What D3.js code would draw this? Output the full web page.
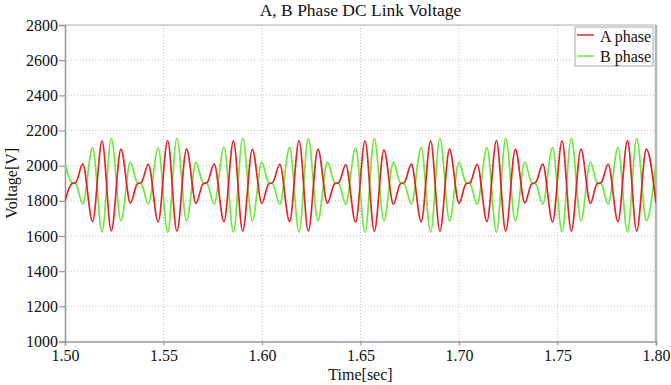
<!DOCTYPE html>
<html>
<head>
<meta charset="utf-8">
<script src="https://cdn.jsdelivr.net/npm/d3@7"></script>
<style>
  body { margin: 0; background: #fff; }
  svg text { font-family: "Liberation Serif", "Times New Roman", serif; fill: #111; }
</style>
</head>
<body>
<div id="chart"></div>
<script>
// extrema (and pinch plateau points), seconds
const times = [
  1.5000,
  1.5033, 1.5055, 1.5090, 1.5140, 1.5188, 1.5235, 1.5284, 1.5332,
  1.5366, 1.5388, 1.5423, 1.5473, 1.5521, 1.5568, 1.5617, 1.5665,
  1.5700, 1.5722, 1.5757, 1.5807, 1.5855, 1.5902, 1.5951, 1.5999,
  1.6033, 1.6055, 1.6090, 1.6140, 1.6188, 1.6235, 1.6284, 1.6332,
  1.6368, 1.6390, 1.6425, 1.6475, 1.6523, 1.6570, 1.6619, 1.6667,
  1.6701, 1.6723, 1.6758, 1.6808, 1.6856, 1.6903, 1.6952, 1.7000,
  1.7035, 1.7057, 1.7092, 1.7142, 1.7190, 1.7237, 1.7286, 1.7334,
  1.7368, 1.7390, 1.7425, 1.7475, 1.7523, 1.7570, 1.7619, 1.7667,
  1.7700, 1.7722, 1.7757, 1.7807, 1.7855, 1.7902, 1.7951, 1.8000
];
const phaseA = [
  1800,
  1896, 1904, 2009, 1682, 2141, 1629, 2094, 1787,
  1895, 1905, 2008, 1680, 2143, 1627, 2095, 1785,
  1896, 1904, 2010, 1681, 2141, 1628, 2093, 1786,
  1895, 1905, 2008, 1682, 2142, 1629, 2094, 1787,
  1896, 1904, 2005, 1679, 2141, 1626, 2090, 1781,
  1895, 1905, 2009, 1681, 2141, 1628, 2094, 1786,
  1896, 1904, 2008, 1682, 2142, 1627, 2093, 1787,
  1895, 1905, 2009, 1680, 2141, 1628, 2094, 1786,
  1896, 1904, 2008, 1682, 2142, 1628, 2094, 1788
];
const phaseB = [
  2015,
  1904, 1896, 1781, 2103, 1622, 2156, 1686, 2020,
  1905, 1895, 1782, 2102, 1621, 2155, 1685, 2019,
  1904, 1896, 1781, 2104, 1622, 2156, 1686, 2020,
  1905, 1895, 1780, 2103, 1622, 2154, 1687, 2020,
  1904, 1896, 1781, 2102, 1620, 2155, 1686, 2020,
  1905, 1895, 1782, 2103, 1622, 2156, 1685, 2019,
  1904, 1896, 1781, 2103, 1621, 2155, 1686, 2020,
  1905, 1895, 1780, 2104, 1622, 2156, 1686, 2020,
  1904, 1896, 1781, 2103, 1622, 2155, 1686, 2017
];
const xTicks = [1.50, 1.55, 1.60, 1.65, 1.70, 1.75, 1.80];
const yTicks = [1000, 1200, 1400, 1600, 1800, 2000, 2200, 2400, 2600, 2800];
const seriesNames = ['A phase', 'B phase'];
const seriesColors = ['#e3242b', '#6ee83c'];

const W = 671, H = 385;
const margin = { top: 25, right: 15, bottom: 43.5, left: 65 },
      width = W - margin.left - margin.right,
      height = H - margin.top - margin.bottom;

const svg = d3.select('#chart')
  .append('svg')
  .attr('width', W)
  .attr('height', H);

const g = svg.append('g')
  .attr('transform', `translate(${margin.left},${margin.top})`);

const x = d3.scaleLinear().domain([1.5, 1.8]).range([0, width]);
const y = d3.scaleLinear().domain([1000, 2800]).range([height, 0]);

// grid
g.append('g')
  .attr('class', 'grid')
  .selectAll('line.gx')
  .data(xTicks.slice(1, -1))
  .join('line')
  .attr('x1', d => x(d)).attr('x2', d => x(d))
  .attr('y1', 0).attr('y2', height);
g.select('.grid')
  .selectAll('line.gy')
  .data(yTicks.slice(1, -1))
  .join('line')
  .attr('class', 'gy')
  .attr('x1', 0).attr('x2', width)
  .attr('y1', d => y(d)).attr('y2', d => y(d));
g.selectAll('.grid line')
  .attr('stroke', '#c4c4c4')
  .attr('stroke-width', 1)
  .attr('stroke-dasharray', '1,2');

// frame
g.append('line').attr('x1', 0).attr('x2', width).attr('y1', 0).attr('y2', 0)
  .attr('stroke', '#b0b0b0').attr('stroke-width', 1);
g.append('line').attr('x1', width).attr('x2', width).attr('y1', 0).attr('y2', height)
  .attr('stroke', '#b4b4b4').attr('stroke-width', 2.5);

// axes
const xAxis = g.append('g')
  .attr('transform', `translate(0,${height})`)
  .call(d3.axisBottom(x).tickValues(xTicks).tickFormat(d3.format('.2f')).tickSize(4).tickPadding(4));
const yAxis = g.append('g')
  .call(d3.axisLeft(y).tickValues(yTicks).tickFormat(d3.format('d')).tickSize(6).tickPadding(1));

[xAxis, yAxis].forEach(a => {
  a.select('.domain').attr('stroke', '#999').attr('stroke-width', 1.6);
  a.selectAll('.tick line').attr('stroke', '#999').attr('stroke-width', 1.2);
  a.selectAll('.tick text')
    .attr('font-family', '"Liberation Serif", "Times New Roman", serif')
    .attr('font-size', 16)
    .attr('fill', '#111');
});

// lines
const clip = svg.append('clipPath').attr('id', 'plot-clip')
  .append('rect').attr('width', width).attr('height', height);

const line = vals => d3.line()
  .x((d, i) => x(times[i]))
  .y(d => y(d))
  .curve(d3.curveMonotoneX)(vals);

[phaseB, phaseA].forEach((vals, j) => {
  g.append('path')
    .attr('clip-path', 'url(#plot-clip)')
    .attr('d', line(vals))
    .attr('fill', 'none')
    .attr('stroke', j === 0 ? seriesColors[1] : seriesColors[0])
    .attr('stroke-width', 1.7);
});

// titles
svg.append('text')
  .attr('x', margin.left + width / 2)
  .attr('y', 16)
  .attr('text-anchor', 'middle')
  .attr('font-size', 17.5)
  .text('A, B Phase DC Link Voltage');

svg.append('text')
  .attr('x', margin.left + width / 2)
  .attr('y', 380)
  .attr('text-anchor', 'middle')
  .attr('font-size', 16)
  .text('Time[sec]');

svg.append('text')
  .attr('transform', 'rotate(-90)')
  .attr('x', -(margin.top + height / 2))
  .attr('y', 17)
  .attr('text-anchor', 'middle')
  .attr('font-size', 16)
  .text('Voltage[V]');

// legend
const legend = svg.append('g')
  .attr('transform', 'translate(575,27)');
legend.append('rect')
  .attr('width', 78)
  .attr('height', 39)
  .attr('fill', '#fff')
  .attr('stroke', '#a8a8a8')
  .attr('stroke-width', 1);
seriesNames.forEach((name, i) => {
  legend.append('line')
    .attr('x1', 2).attr('x2', 19)
    .attr('y1', 8 + i * 21).attr('y2', 8 + i * 21)
    .attr('stroke', seriesColors[i])
    .attr('stroke-width', 1.5);
  legend.append('text')
    .attr('x', 25)
    .attr('y', 14.5 + i * 20)
    .attr('font-size', 16)
    .text(name);
});
</script>
</body>
</html>
